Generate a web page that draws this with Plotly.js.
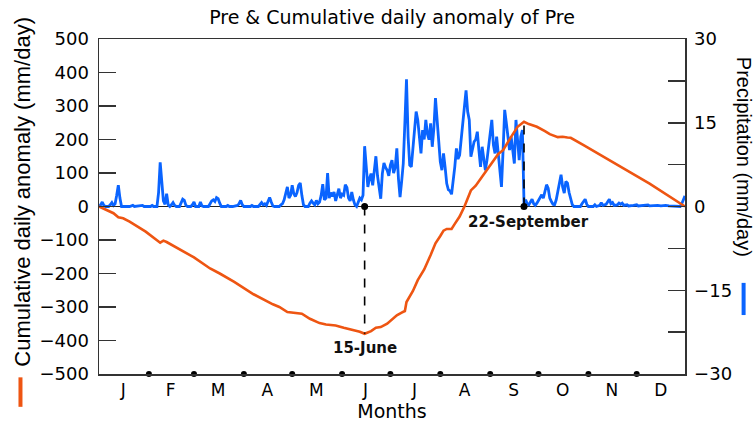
<!DOCTYPE html>
<html>
<head>
<meta charset="utf-8">
<script src="https://cdn.plot.ly/plotly-3.0.1.min.js"></script>
<style>
  html, body { margin: 0; padding: 0; background: #fff; }
  #chart { width: 756px; height: 424px; }
</style>
</head>
<body>
<div id="chart"></div>
<script>
// daily precipitation (mm/day), day of year -> value
const preDay = [1, 2, 3, 4, 5, 7, 8, 9, 10, 11, 12, 13, 14, 15, 20, 22, 23, 28, 29, 33, 34, 35,
  37, 38, 39, 40, 41, 42, 43, 44, 45, 46, 47, 48, 49, 51, 52, 53, 54, 55, 56, 58, 59, 60, 61, 63, 64, 65, 66,
  69, 70, 71, 72, 73, 74, 75, 76, 77, 80, 81, 82, 84, 87, 88, 89, 90, 91,
  95, 96, 97, 100, 101, 102, 103, 104, 105, 106, 107, 108, 109, 110, 113, 114, 115, 116, 117, 118, 119, 120,
  121, 122, 123, 124, 125, 126, 127, 128, 129, 131, 132,
  133, 134, 135, 136, 137, 138, 139, 140, 141, 142, 143, 144, 145, 146, 147, 148, 149, 150, 151, 152, 153,
  154, 155, 156, 157, 158, 159, 160, 161, 162, 163, 164, 165,
  166, 167, 168, 169, 170, 171, 172, 173, 174, 175, 176, 177, 178, 179, 180, 181, 182, 183, 184, 185, 186,
  187, 188, 189, 190, 191, 192, 193, 194, 195, 196, 197, 198, 199, 200, 201, 202, 203, 204, 205, 206, 207,
  208, 209, 210, 211, 212, 213, 214, 215, 216, 217, 218, 219, 220, 221, 222, 223, 224, 225, 226, 227, 228,
  229, 230, 231, 232, 233, 234, 235, 236, 237, 238, 239, 240, 241, 242, 243, 244, 245, 246, 247, 248, 249,
  250, 251, 252, 253, 254, 255, 256, 257, 258, 259, 260, 261, 262, 263, 264, 265,
  266, 267, 268, 269, 270, 271, 272, 273, 274, 275, 276, 277, 278, 279, 280, 281, 282, 283, 284, 285, 286,
  287, 288, 289, 290, 291, 292, 293, 294, 295, 296, 300, 301, 302, 303, 304, 305, 308, 309, 310, 312, 313,
  314, 316, 317, 318, 319, 320, 321, 323, 324, 325, 326, 327, 329, 330, 333, 335, 336, 340, 342, 343, 346,
  348, 350, 353, 355, 358, 362, 363, 364, 365];
const preVal = [0, 0.3, 0.8, 0.2, 0, 0, 0.3, 0.7, 0.2, 0.5, 2.0, 3.8, 1.5, 0, 0, 0.2, 0, 0.2, 0, 0, 0.2, 0,
  0, 2.5, 7.9, 5.0, 1.0, 0.4, 2.3, 0.3, 0, 0.3, 0.7, 0.2, 0, 0, 0.8, 1.3, 1.1, 0.2, 0, 0, 0.3, 0.8, 0, 0, 0.8, 0.1, 0,
  0, 0.5, 1.0, 1.2, 0.9, 1.6, 1.4, 0.6, 0, 0, 0.2, 0, 0, 0.2, 0.5, 1.1, 0.3, 0,
  0, 0.2, 0, 0, 0.4, 0.7, 0.3, 0.5, 0.2, 1.0, 1.6, 0.8, 0.1, 0, 0, 0.3, 0.5, 1.2, 2.2, 3.5, 1.5, 2.0,
  3.8, 2.3, 1.8, 2.5, 3.8, 4.2, 2.0, 0.3, 0, 0, 0.6,
  1.0, 0.6, 0.3, 1.1, 0.5, 0.8, 2.0, 4.0, 1.2, 1.5, 6.0, 1.5, 2.5, 1.8, 2.6, 1.0, 2.0, 3.2, 1.5, 2.2, 2.0,
  3.9, 3.4, 1.5, 1.0, 2.6, 1.2, 0.3, 0, 0.8, 1.5, 1.2, 2.0,
  10.8, 7.0, 3.5, 5.0, 5.9, 3.8, 6.0, 9.0, 5.5, 3.8, 1.4, 5.9, 7.8, 7.0, 6.5, 5.5, 7.4, 8.3, 6.0, 7.0, 10.4,
  5.0, 1.7, 4.5, 7.7, 15.0, 22.8, 12.5, 7.4, 7.1, 10.7, 14.0, 17.0, 15.5, 12.0, 9.5, 13.7, 12.0, 15.5, 13.0, 12.0, 14.9,
  10.7, 14.0, 19.4, 15.0, 11.3, 8.0, 6.5, 9.5, 7.0, 4.1, 3.0, 2.8, 2.2, 4.5, 7.1, 10.4, 8.5, 9.2, 12.0, 15.5, 18.0,
  20.8, 17.0, 15.5, 8.9, 10.0, 11.6, 12.0, 13.4, 10.0, 7.1, 10.7, 8.5, 6.5, 8.3, 11.0, 13.0, 15.5, 11.0, 9.5, 12.5, 9.0,
  7.1, 3.5, 10.0, 17.3, 15.0, 12.5, 10.1, 12.5, 9.5, 7.7, 15.5, 11.0, 8.3, 12.5, 13.7, 0.5,
  1.2, 0.5, 0.3, 0.8, 1.3, 0.5, 0.2, 0.6, 1.2, 1.7, 2.1, 1.5, 2.5, 3.9, 3.3, 1.5, 0.9, 0.4, 0.3, 1.2, 2.7,
  4.5, 5.7, 3.5, 2.4, 4.5, 4.2, 2.5, 1.2, 0.3, 0, 0, 0.5, 1.0, 1.3, 0.4, 0, 0, 0.3, 0, 0.2, 0.7,
  0.2, 0.4, 0.8, 1.3, 0.5, 0.7, 0.2, 0.3, 0.6, 0.4, 0.6, 0.2, 0.3, 0.1, 0.2, 0.3, 0.1, 0.2, 0.3, 0.1, 0.2,
  0.2, 0.1, 0.2, 0.1, 0.1, 0, 0.5, 1.2, 1.9];

// cumulative daily anomaly (mm/day)
const cumDay = [1, 5, 10, 13, 16, 20, 30, 39, 41, 43, 50, 60, 70, 76, 85, 97, 109, 113, 118, 122, 127, 132,
  138, 142, 148, 153, 159, 163, 166, 170, 173, 176, 180, 182, 186, 189, 191, 192, 194, 196, 199, 203, 207,
  210, 213, 215, 217, 220, 222, 225, 228, 230, 232, 235, 238, 241, 244, 247, 249, 252, 254, 257, 261, 264,
  265, 268, 273, 278, 281, 286, 289, 292, 294, 302, 322, 343, 365];
const cumVal = [0, -8, -20, -32, -35, -45, -75, -108, -102, -106, -125, -152, -185, -200, -225, -262, -292, -300,
  -315, -318, -320, -335, -348, -352, -355, -362, -368, -374, -380, -372, -362, -360, -350, -342, -325, -317,
  -312, -285, -268, -252, -220, -188, -145, -110, -88, -72, -67, -67, -52, -30, 0, 25, 48, 62, 82, 103, 125,
  142, 157, 168, 185, 208, 238, 250, 253, 246, 238, 225, 216, 207, 208, 206, 205, 183, 128, 68, 0];

const monthNames = ["J", "F", "M", "A", "M", "J", "J", "A", "S", "O", "N", "D"];
const monthLengths = [31, 28, 31, 30, 31, 30, 31, 31, 30, 31, 30, 31];

const eventDays = [166, 265];
const eventLabels = ["15-June", "22-September"];

const orange = "#ee5512";
const blue = "#0a64ff";
const fontFam = "DejaVu Sans, Liberation Sans, sans-serif";
const titleFam = "Liberation Sans, Arial, sans-serif";

// month starts, mid points and boundary dots
const monthStart = [];
let acc = 1;
monthLengths.forEach((len) => { monthStart.push(acc); acc += len; });
const monthMid = monthStart.map((s, i) => s + monthLengths[i] / 2 - 0.5);
const boundaryDays = monthStart.slice(1);

const eventCum = eventDays.map((d) => cumVal[cumDay.indexOf(d)]);

const traces = [
  {
    x: preDay, y: preVal, type: "scatter", mode: "lines", yaxis: "y",
    line: { color: blue, width: 2.8 }, hoverinfo: "skip"
  },
  {
    x: cumDay, y: cumVal, type: "scatter", mode: "lines", yaxis: "y2",
    line: { color: orange, width: 2.6 }, hoverinfo: "skip"
  },
  {
    x: boundaryDays, y: boundaryDays.map(() => -500), type: "scatter", mode: "markers", yaxis: "y2",
    marker: { color: "#000", size: 6 }, cliponaxis: false, hoverinfo: "skip"
  },
  {
    x: eventDays, y: eventDays.map(() => 0), type: "scatter", mode: "markers", yaxis: "y2",
    marker: { color: "#000", size: 7 }, cliponaxis: false, hoverinfo: "skip"
  }
];

const shapes = eventDays.map((d, i) => ({
  type: "line", xref: "x", yref: "y2", x0: d, x1: d, y0: 0, y1: eventCum[i],
  line: { color: "#000", width: 1.6, dash: "dash" }
}));
// coloured line marks next to the axis titles
shapes.push({
  type: "line", xref: "paper", yref: "paper", x0: -0.134, x1: -0.134, y0: -0.01, y1: -0.098,
  line: { color: orange, width: 4 }
});
shapes.push({
  type: "line", xref: "paper", yref: "paper", x0: 1.1, x1: 1.1, y0: 0.272, y1: 0.176,
  line: { color: blue, width: 4 }
});

const annotations = [
  {
    x: eventDays[0], y: -422, xref: "x", yref: "y2", text: "<b>" + eventLabels[0] + "</b>",
    showarrow: false, font: { family: fontFam, size: 15, color: "#111" }
  },
  {
    x: eventDays[1] + 3, y: -45, xref: "x", yref: "y2", text: "<b>" + eventLabels[1] + "</b>",
    showarrow: false, font: { family: fontFam, size: 15, color: "#111" }
  },
  {
    x: -0.131, y: 0.545, xref: "paper", yref: "paper", xanchor: "center", yanchor: "middle",
    textangle: -90, text: "Cumulative daily anomaly (mm/day)", showarrow: false,
    font: { family: titleFam, size: 22, color: "#000" }
  },
  {
    x: 1.102, y: 0.649, xref: "paper", yref: "paper", xanchor: "center", yanchor: "middle",
    textangle: 90, text: "Precipitation (mm/day)", showarrow: false,
    font: { family: titleFam, size: 20, color: "#000" }
  }
];

const layout = {
  width: 756, height: 424,
  margin: { l: 99, r: 71, t: 39, b: 50 },
  paper_bgcolor: "#fff", plot_bgcolor: "#fff",
  showlegend: false,
  font: { family: fontFam, size: 18, color: "#000" },
  title: {
    text: "Pre & Cumulative daily anomaly of Pre",
    x: 0.5185, xanchor: "center", y: 0.958, yanchor: "middle",
    font: { family: fontFam, size: 19, color: "#000" }
  },
  xaxis: {
    range: [1, 365], tickvals: monthMid, ticktext: monthNames, ticks: "",
    showgrid: false, zeroline: false,
    showline: true, mirror: true, linecolor: "#333", linewidth: 1.5,
    tickfont: { family: fontFam, size: 17 },
    title: { text: "Months", font: { family: fontFam, size: 19 }, standoff: 4 }
  },
  yaxis: {
    side: "right", range: [-30, 30], tickvals: [-30, -15, 0, 15, 30],
    ticks: "inside", ticklen: 17, tickcolor: "#333", tickwidth: 1.5, ticklabelstandoff: 4,
    minor: { tickvals: [-22.5, -7.5, 7.5, 22.5], ticks: "inside", ticklen: 17, tickcolor: "#333", tickwidth: 1.5 },
    showgrid: false, zeroline: false,
    showline: true, linecolor: "#333", linewidth: 1.5,
    tickfont: { family: fontFam, size: 18 }
  },
  yaxis2: {
    overlaying: "y", side: "left", range: [-500, 500], dtick: 100,
    ticks: "inside", ticklen: 17, tickcolor: "#333", tickwidth: 1.5, ticklabelstandoff: 5,
    showgrid: false, zeroline: true, zerolinecolor: "#222", zerolinewidth: 1.5,
    showline: true, linecolor: "#333", linewidth: 1.5,
    tickfont: { family: fontFam, size: 18 }
  },
  shapes: shapes,
  annotations: annotations
};

Plotly.newPlot("chart", traces, layout, { displayModeBar: false, staticPlot: true });
</script>
</body>
</html>
